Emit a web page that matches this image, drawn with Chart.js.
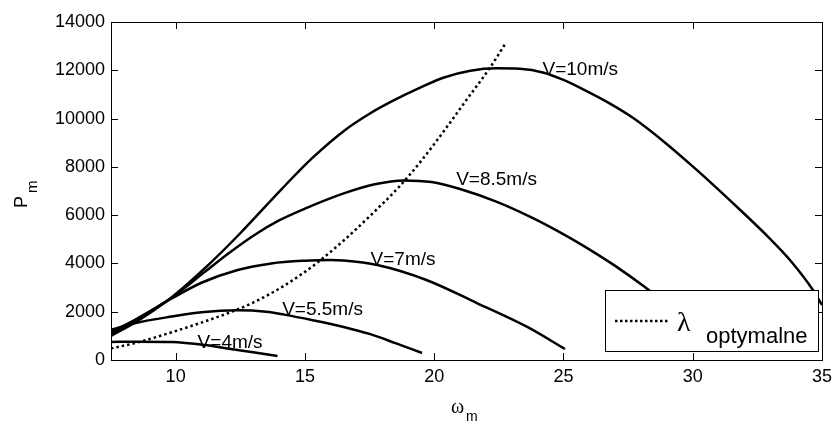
<!DOCTYPE html>
<html><head><meta charset="utf-8">
<script src="https://cdn.jsdelivr.net/npm/chart.js@4/dist/chart.umd.min.js"></script>
<style>html,body{margin:0;padding:0;background:#fff}#wrap{width:838px;height:421px}</style>
</head><body><div id="wrap"><canvas id="c" width="838" height="421"></canvas></div>
<script>
// ---- data ----
const xTicks = [10, 15, 20, 25, 30, 35];
const yTicks = [0, 2000, 4000, 6000, 8000, 10000, 12000, 14000];

const v4W = [7.5, 8.5, 9.85, 11.13, 12, 13, 13.94];
const v4P = [745, 760, 745, 620, 480, 320, 165];

const v55W = [7.5, 8.54, 9.85, 11, 12.4, 13.5, 14.2, 15.3, 16.5, 17.5, 18.5, 19.53];
const v55P = [1250, 1550, 1800, 1980, 2060, 2000, 1880, 1650, 1370, 1080, 700, 290];

const v7W = [7.5, 8.5, 9.85, 11, 12.4, 13.7, 14.98, 16, 16.5, 17.8, 19.7, 21.65, 23.6, 25.06];
const v7P = [1150, 1700, 2550, 3200, 3730, 4000, 4110, 4140, 4120, 3935, 3315, 2360, 1370, 455];

const v85W = [7.5, 8.5, 9.85, 11.13, 12, 13.05, 14, 14.98, 16.5, 17.7, 18.83, 19.9, 21, 22.4, 23.7, 24.8, 25.76, 27, 28.15, 29, 29.75];
const v85P = [1080, 1700, 2580, 3650, 4380, 5180, 5780, 6260, 6900, 7280, 7440, 7370, 7080, 6560, 5940, 5330, 4740, 3900, 3020, 2300, 1500];

const v10W = [7.5, 8.5, 9.85, 11.13, 12.5, 14.1, 15.3, 16.52, 17.5, 18.45, 19.5, 20.38, 21.4, 22.4, 23.3, 24.24, 25, 25.78, 26.7, 27.7, 28.98, 30, 30.9, 31.9, 32.84, 33.8, 34.65, 35];
const v10P = [1000, 1600, 2600, 3800, 5250, 7080, 8380, 9500, 10200, 10760, 11300, 11700, 11980, 12080, 12060, 11900, 11600, 11200, 10680, 10020, 8960, 8020, 7150, 6150, 5180, 4090, 2900, 2280];

const optW = [7.5, 8.5, 9.85, 11, 12.15, 13, 14, 15, 15.5, 16.5, 17.5, 18.6, 19.5, 20.35, 21.2, 22.15, 22.77];
const optP = [480, 720, 1150, 1550, 1990, 2380, 2950, 3650, 4050, 4950, 5950, 7125, 8250, 9445, 10700, 12095, 13130];

const curveLabels = ['V=4m/s', 'V=5.5m/s', 'V=7m/s', 'V=8.5m/s', 'V=10m/s'];
const labelW = [10.85, 14.12, 17.54, 20.85, 24.19];
const labelP = [700, 2070, 4140, 7455, 12013];

const legendMain = '\u03bb';
const legendSub = 'optymalne';

// ---- build ----
const pts = (w, p) => w.map((x, i) => ({x: x, y: p[i]}));
const solid = (w, p) => ({data: pts(w, p), borderColor: '#000', borderWidth: 2.5, pointRadius: 0, fill: false, cubicInterpolationMode: 'monotone'});

const SANS = '"Liberation Sans", Arial, sans-serif';
const SERIF = '"Liberation Serif", "Times New Roman", serif';

const deco = {
  id: 'deco',
  afterDatasetsDraw(chart) {
    const ctx = chart.ctx, a = chart.chartArea;
    const xs = chart.scales.x, ys = chart.scales.y;
    const L = Math.round(a.left), R = Math.round(a.right), T = Math.round(a.top), B = Math.round(a.bottom);
    ctx.save();
    ctx.fillStyle = '#000';
    // frame
    ctx.fillRect(L, T, R - L + 1, 1);
    ctx.fillRect(L, B, R - L + 1, 1);
    ctx.fillRect(L, T, 1, B - T + 1);
    ctx.fillRect(R, T, 1, B - T + 1);
    // inside ticks
    const tl = 7;
    xTicks.forEach(v => {
      const px = Math.round(xs.getPixelForValue(v));
      ctx.fillRect(px, B - tl, 1, tl);
      ctx.fillRect(px, T, 1, tl);
    });
    yTicks.forEach(v => {
      const py = Math.round(ys.getPixelForValue(v));
      ctx.fillRect(L, py, tl, 1);
      ctx.fillRect(R - tl, py, tl, 1);
    });
    // curve labels
    ctx.font = '19px ' + SANS;
    ctx.textAlign = 'left'; ctx.textBaseline = 'middle';
    curveLabels.forEach((t, i) => {
      ctx.fillText(t, xs.getPixelForValue(labelW[i]), ys.getPixelForValue(labelP[i]));
    });
    // legend box
    const bx = 605, by = 290, bw = 213, bh = 61;
    ctx.fillStyle = '#fff';
    ctx.fillRect(bx, by, bw, bh);
    ctx.strokeStyle = '#000'; ctx.lineWidth = 1;
    ctx.strokeRect(bx + 0.5, by + 0.5, bw, bh);
    ctx.beginPath();
    ctx.setLineDash([2.5, 2.5]);
    ctx.lineWidth = 2.5;
    ctx.moveTo(615, 321); ctx.lineTo(668, 321);
    ctx.stroke();
    ctx.setLineDash([]);
    ctx.fillStyle = '#000';
    ctx.textBaseline = 'alphabetic';
    ctx.font = '28px ' + SERIF;
    ctx.fillText(legendMain, 677, 331);
    ctx.font = '22px ' + SANS;
    ctx.fillText(legendSub, 706, 343);
    // x axis title
    ctx.font = '20px ' + SERIF;
    ctx.fillText('\u03c9', 451, 413);
    ctx.font = '14px ' + SANS;
    ctx.fillText('m', 466, 421);
    // y axis title
    ctx.save();
    ctx.translate(27, 208);
    ctx.rotate(-Math.PI / 2);
    ctx.font = '18px ' + SANS;
    ctx.fillText('P', 0, 0);
    ctx.font = '15px ' + SANS;
    ctx.fillText('m', 15, 10);
    ctx.restore();
    ctx.restore();
  }
};

new Chart(document.getElementById('c'), {
  type: 'line',
  data: {
    datasets: [
      solid(v4W, v4P),
      solid(v55W, v55P),
      solid(v7W, v7P),
      solid(v85W, v85P),
      solid(v10W, v10P),
      {data: pts(optW, optP), borderColor: '#000', borderWidth: 2.5, borderDash: [2.5, 3], pointRadius: 0, fill: false, cubicInterpolationMode: 'monotone'}
    ]
  },
  options: {
    responsive: false, animation: false, devicePixelRatio: 1,
    layout: {padding: {top: 22, right: 12, left: 0, bottom: 0}},
    plugins: {legend: {display: false}, tooltip: {enabled: false}},
    scales: {
      x: {
        type: 'linear', min: 7.5, max: 35,
        afterBuildTicks: s => { s.ticks = xTicks.map(v => ({value: v})); },
        afterFit: s => { s.height = 61; },
        grid: {display: false, drawTicks: false}, border: {display: false},
        ticks: {color: '#000', padding: 6, font: {family: SANS, size: 18}, maxRotation: 0}
      },
      y: {
        type: 'linear', min: 0, max: 14000,
        afterBuildTicks: s => { s.ticks = yTicks.map(v => ({value: v})); },
        afterFit: s => { s.width = 111; },
        grid: {display: false, drawTicks: false}, border: {display: false},
        ticks: {color: '#000', padding: 6, font: {family: SANS, size: 18}, callback: v => String(v)}
      }
    }
  },
  plugins: [deco]
});
</script>
</body></html>
